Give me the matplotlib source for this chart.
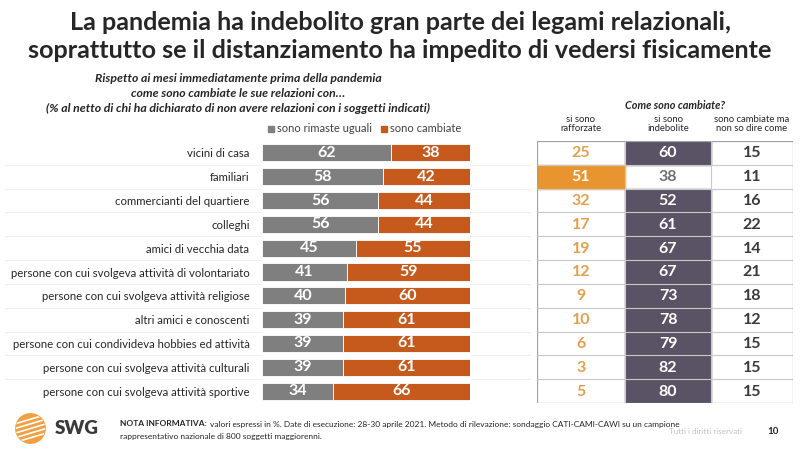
import matplotlib
matplotlib.use("Agg")
import matplotlib.pyplot as plt
from matplotlib.patches import Rectangle, Circle
import numpy as np

categories = ["vicini di casa", "familiari", "commercianti del quartiere", "colleghi",
              "amici di vecchia data", "persone con cui svolgeva attività di volontariato",
              "persone con cui svolgeva attività religiose", "altri amici e conoscenti",
              "persone con cui condivideva hobbies ed attività",
              "persone con cui svolgeva attività culturali",
              "persone con cui svolgeva attività sportive"]
uguali = [62, 58, 56, 56, 45, 41, 40, 39, 39, 39, 34]
cambiate = [38, 42, 44, 44, 55, 59, 60, 61, 61, 61, 66]
rafforzate = [25, 51, 32, 17, 19, 12, 9, 10, 6, 3, 5]
indebolite = [60, 38, 52, 61, 67, 67, 73, 78, 79, 82, 80]
non_so = [15, 11, 16, 22, 14, 21, 18, 12, 15, 15, 15]
legend_labels = ["sono rimaste uguali", "sono cambiate"]
col_headers = ["si sono\nrafforzate", "si sono\nindebolite", "sono cambiate ma\nnon so dire come"]

plt.rcParams['font.family'] = ['Lato', 'DejaVu Sans']
GREY = "#7f7f7f"
ORANGE = "#c55a1c"
PURPLE = "#5a5366"
LORANGE = "#e8952f"
TXT = "#262626"

W, H = 800, 449
fig = plt.figure(figsize=(8, 4.49), dpi=100)

def fx(px): return px / W
def fy(py): return 1 - py / H

fig.text(0.5, fy(23), "La pandemia ha indebolito gran parte dei legami relazionali,",
         ha="center", va="center", fontsize=18.2, fontweight="bold", color=TXT)
fig.text(0.5, fy(50), "soprattutto se il distanziamento ha impedito di vedersi fisicamente",
         ha="center", va="center", fontsize=18.2, fontweight="bold", color=TXT)

sub = ["Rispetto ai mesi immediatamente prima della pandemia",
       "come sono cambiate le sue relazioni con…",
       "(% al netto di chi ha dichiarato di non avere relazioni con i soggetti indicati)"]
for i, s in enumerate(sub):
    fig.text(fx(238), fy(79 + 14.5 * i), s, ha="center", va="center", fontsize=8.8,
             fontstyle="italic", fontweight="bold", color=TXT)

# bar chart
top, bot = 141, 403
ax = fig.add_axes([fx(262), fy(bot), fx(470) - fx(262), (bot - top) / H])
y = np.arange(len(categories))
ax.barh(y, uguali, height=0.72, color=GREY, edgecolor="white", linewidth=0.6)
ax.barh(y, cambiate, left=uguali, height=0.72, color=ORANGE, edgecolor="white", linewidth=0.6)
for yi, u, c in zip(y, uguali, cambiate):
    ax.text(u / 2, yi, str(u), ha="center", va="center", color="white", fontsize=11.5, fontweight="bold")
    ax.text(u + c / 2, yi, str(c), ha="center", va="center", color="white", fontsize=11.5, fontweight="bold")
ax.set_xlim(0, 100)
ax.set_ylim(len(categories) - 0.5, -0.5)
ax.set_yticks(y)
ax.set_yticklabels(categories, fontsize=8.2, color=TXT)
ax.tick_params(axis="y", length=0, pad=9)
ax.set_xticks([])
for s in ax.spines.values():
    s.set_visible(False)

# legend
fig.canvas.draw()
fig.patches.append(Rectangle((fx(268), fy(132)), fx(6), 6 / H, transform=fig.transFigure, color=GREY))
l1 = fig.text(fx(277), fy(129), legend_labels[0], ha="left", va="center", fontsize=8.0, color="#404040")
fig.canvas.draw()
x2 = l1.get_window_extent().x1 + 9
fig.patches.append(Rectangle((x2 / W, fy(132)), fx(6), 6 / H, transform=fig.transFigure, color=ORANGE))
fig.text(x2 / W + fx(9), fy(129), legend_labels[1], ha="left", va="center", fontsize=8.0, color="#404040")

# table
tl, tr = 537, 793
tax = fig.add_axes([fx(tl), fy(bot), fx(tr) - fx(tl), (bot - top) / H])
tax.set_xlim(0, tr - tl)
tax.set_ylim(len(categories), 0)
tax.axis("off")
edges = [0, 88, 174, 256]
for i in range(len(categories)):
    if i == 1:
        tax.add_patch(Rectangle((edges[0], i), edges[1] - edges[0], 1, color=LORANGE))
        c1 = "white"
    else:
        c1 = "#e2a04e"
    tax.text((edges[0] + edges[1]) / 2, i + 0.52, str(rafforzate[i]), ha="center", va="center",
             fontsize=11.5, fontweight="bold", color=c1)
    if i != 1:
        tax.add_patch(Rectangle((edges[1], i), edges[2] - edges[1], 1, color=PURPLE))
        c2 = "white"
    else:
        c2 = "#6f6f6f"
    tax.text((edges[1] + edges[2]) / 2, i + 0.52, str(indebolite[i]), ha="center", va="center",
             fontsize=11.5, fontweight="bold", color=c2)
    tax.text((edges[2] + edges[3]) / 2, i + 0.52, str(non_so[i]), ha="center", va="center",
             fontsize=11.5, fontweight="bold", color="#3a3a3a")
for i in range(1, len(categories)):
    tax.plot([edges[0], edges[3]], [i, i], color="#c8c8c8", lw=0.8)
tax.add_patch(Rectangle((0, 0), edges[3], len(categories), fill=False, edgecolor="#a0a0a0", lw=0.9))
for e in edges[1:3]:
    tax.plot([e, e], [0, len(categories)], color="#c8c8c8", lw=0.8)

for i in range(1, len(categories)):
    yy = top + i * (bot - top) / len(categories)
    fig.add_artist(plt.Line2D([fx(5), fx(530)], [fy(yy), fy(yy)], color="#eeeeee", lw=0.6, zorder=0))

for j, hdr in enumerate(col_headers):
    fig.text(fx(tl + (edges[j] + edges[j + 1]) / 2), fy(124), hdr, ha="center", va="center",
             fontsize=6.8, color=TXT, linespacing=1.0)
fig.text(fx(675), fy(105), "Come sono cambiate?", ha="center", va="center", fontsize=7.8,
         fontstyle="italic", fontweight="bold", color=TXT)

# footer
lax = fig.add_axes([fx(15), fy(444), fx(31), 31 / H])
lax.set_xlim(-1, 1); lax.set_ylim(-1, 1); lax.set_aspect("equal"); lax.axis("off")
circ = Circle((0, 0), 0.95, color="#f0a040")
lax.add_patch(circ)
for k, yy in enumerate(np.linspace(-0.6, 0.6, 5)):
    ln, = lax.plot([-1, 1], [yy - 0.3, yy + 0.3], color="white", lw=1.2)
    ln.set_clip_path(circ)
fig.text(fx(55), fy(428), "SWG", ha="left", va="center", fontsize=13.5, fontweight="heavy", color="#3a3a3a")
nb = fig.text(fx(120), fy(424), "NOTA INFORMATIVA:", ha="left", va="center", fontsize=6.0,
              fontweight="bold", color=TXT)
fig.canvas.draw()
bb = nb.get_window_extent()
fig.text(bb.x1 / W + fx(3), fy(424), "valori espressi in %. Date di esecuzione: 28-30 aprile 2021. Metodo di rilevazione: sondaggio CATI-CAMI-CAWI su un campione",
         ha="left", va="center", fontsize=6.0, color=TXT)
fig.text(fx(120), fy(437), "rappresentativo nazionale di 800 soggetti maggiorenni.", ha="left", va="center",
         fontsize=6.0, color=TXT)
fig.text(fx(742), fy(432), "Tutti i diritti riservati", ha="right", va="center", fontsize=5.8, color="#c0c0c0")
fig.text(fx(773), fy(432), "10", ha="center", va="center", fontsize=7, fontweight="bold", color=TXT)

fig.savefig("out.png", dpi=100)
